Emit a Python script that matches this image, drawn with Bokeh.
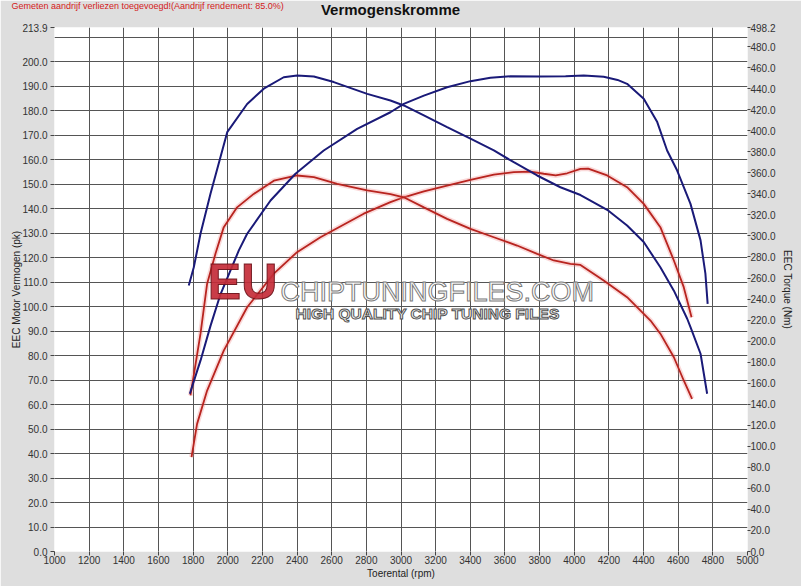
from bokeh.plotting import figure
from bokeh.models import (Range1d, LinearAxis, FixedTicker, NumeralTickFormatter, Label)
from bokeh.embed import file_html
from bokeh.resources import INLINE

# ---- data ----
# tuned torque (Nm, right axis)
tq_tuned_rpm = [1775, 1804, 1843, 1900, 1997, 2112, 2208, 2323, 2400, 2497, 2612, 2805, 2939, 3016,
                3132, 3266, 3401, 3536, 3651, 3786, 3920, 4036, 4190, 4305, 4401, 4497, 4575, 4652,
                4671, 4729, 4767]
tq_tuned_nm = [252.9, 270.2, 302.3, 340.0, 398.7, 425.5, 440.0, 450.9, 452.5, 451.6, 446.3, 435.1,
               428.8, 424.1, 414.6, 403.4, 392.5, 381.3, 370.1, 357.5, 346.3, 338.9, 324.9, 310.0,
               294.2, 270.2, 248.0, 221.3, 213.3, 188.0, 150.0]
# tuned power (pk, left axis)
pw_tuned_rpm = [1781, 1843, 1900, 1958, 2064, 2112, 2247, 2391, 2554, 2747, 2939, 3016, 3132, 3266,
                3401, 3516, 3632, 3805, 3950, 4055, 4170, 4250, 4305, 4401, 4479, 4536, 4594, 4671,
                4729, 4757, 4770]
pw_tuned_pk = [64.4, 78.0, 92.0, 105.0, 122.9, 129.7, 143.3, 154.2, 163.7, 172.5, 179.3, 182.7,
               186.1, 189.5, 192.0, 193.4, 194.0, 193.9, 194.0, 194.3, 193.8, 192.5, 190.9, 184.8,
               175.3, 163.7, 155.5, 141.9, 127.0, 113.4, 101.1]
# stock power (pk, left axis)
pw_stock_rpm = [1791, 1823, 1881, 1977, 2112, 2266, 2400, 2535, 2785, 2939, 3016, 3132, 3266, 3401,
                3536, 3651, 3747, 3824, 3893, 3959, 4036, 4080, 4190, 4305, 4401, 4497, 4575, 4632,
                4677]
pw_stock_pk = [38.5, 52.1, 65.7, 82.0, 99.7, 113.4, 122.2, 128.3, 137.9, 142.6, 144.6, 147.0, 149.4,
               151.7, 153.8, 154.9, 155.1, 154.2, 153.5, 154.4, 156.2, 156.3, 153.5, 148.7, 141.9,
               132.4, 118.8, 107.9, 95.6]
# stock torque (Nm, right axis)
tq_stock_rpm = [1785, 1843, 1881, 1929, 1977, 2054, 2150, 2266, 2400, 2497, 2632, 2805, 2939, 3016,
                3132, 3266, 3401, 3536, 3670, 3786, 3882, 3978, 4036, 4170, 4305, 4440, 4497, 4575,
                4632, 4680]
tq_stock_nm = [148.4, 207.3, 254.6, 283.0, 308.4, 327.2, 340.0, 352.6, 357.5, 355.9, 349.6, 343.3,
               339.8, 336.8, 327.2, 316.3, 306.7, 298.8, 290.9, 283.0, 276.7, 273.4, 272.5, 257.6,
               241.8, 219.6, 207.1, 184.7, 162.6, 145.1]

x_ticks = list(range(1000, 5001, 200))
left_ticks = [float(v) for v in range(0, 201, 10)] + [213.9]
right_ticks = [float(v) for v in range(0, 481, 20)] + [498.2]
left_max = 213.9
right_max = 498.2

title_text = "Vermogenskromme"
note_text = "Gemeten aandrijf verliezen toegevoegd!(Aandrijf rendement: 85.0%)"

FONT = "Liberation Sans"
BG = "#dedede"
BLUE = "#1a1a78"
RED = "#b8241f"

p = figure(frame_width=693, frame_height=524,
           x_range=Range1d(1000, 5000), y_range=Range1d(0, left_max),
           output_backend="svg", toolbar_location=None,
           min_border_left=54, min_border_right=54, min_border_top=27, min_border_bottom=35,
           background_fill_color="white", border_fill_color=BG, outline_line_color=None)
p.extra_y_ranges = {"tq": Range1d(0, right_max)}

# grids
p.xgrid.ticker = FixedTicker(ticks=x_ticks[1:-1])
p.ygrid.ticker = FixedTicker(ticks=list(range(10, 211, 10)))
for g in (p.xgrid, p.ygrid):
    g.grid_line_color = "#555555"
    g.grid_line_width = 1
    g.grid_line_alpha = 1.0

def style_axis(ax):
    ax.axis_line_color = None
    ax.major_tick_line_color = "#444444"
    ax.major_tick_out = 4
    ax.major_tick_in = 0
    ax.minor_tick_line_color = None
    ax.major_label_text_font = FONT
    ax.major_label_text_font_size = "10px"
    ax.major_label_text_color = "#333333"
    ax.major_label_standoff = 2
    ax.axis_label_text_font = FONT
    ax.axis_label_text_font_size = "10px"
    ax.axis_label_text_font_style = "normal"
    ax.axis_label_text_color = "#222222"
    ax.axis_label_standoff = 3

xa = p.xaxis[0]
xa.ticker = FixedTicker(ticks=x_ticks)
xa.formatter = NumeralTickFormatter(format="0")
xa.axis_label = "Toerental (rpm)"
style_axis(xa)
xa.major_label_standoff = 0
xa.axis_label_standoff = 1

ya = p.yaxis[0]
ya.ticker = FixedTicker(ticks=left_ticks)
ya.formatter = NumeralTickFormatter(format="0.0")
ya.axis_label = "EEC Motor Vermogen (pk)"
style_axis(ya)
ya.major_label_standoff = 3
ya.axis_label_standoff = -3

ra = LinearAxis(y_range_name="tq", ticker=FixedTicker(ticks=right_ticks),
                formatter=NumeralTickFormatter(format="0.0"), axis_label="EEC Torque (Nm)")
style_axis(ra)
ra.major_label_standoff = 0
ra.major_tick_out = 3
p.add_layout(ra, "right")

# watermark
p.add_layout(Label(x=1885, y=98.7, text="EU", text_font=FONT, text_font_size="50px",
                   text_font_style="bold", text_color="#c42c38", text_alpha=0.92,
                   text_outline_color="#6a1018"))
p.add_layout(Label(x=2304, y=100.0, text="CHIPTUNINGFILES.COM", text_font=FONT,
                   text_font_size="27px", text_color="#ffffff",
                   text_outline_color="#7a7a7a"))
p.add_layout(Label(x=2391, y=93.5, text="HIGH QUALITY CHIP TUNING FILES", text_font=FONT,
                   text_font_size="15.5px", text_font_style="bold", text_color="#f6f6f6",
                   text_outline_color="#505050"))

# red (stock) curves with soft glow
for xs, ys, rng in ((pw_stock_rpm, pw_stock_pk, "default"), (tq_stock_rpm, tq_stock_nm, "tq")):
    p.line(xs, ys, y_range_name=rng, line_color="#f08080", line_width=5, line_alpha=0.3)
    p.line(xs, ys, y_range_name=rng, line_color=RED, line_width=1.8)

# blue (tuned) curves
p.line(pw_tuned_rpm, pw_tuned_pk, line_color=BLUE, line_width=2)
p.line(tq_tuned_rpm, tq_tuned_nm, y_range_name="tq", line_color=BLUE, line_width=2)

# texts above the frame (placed in the top panel so they are not clipped)
p.add_layout(Label(x=336, y=18, x_units="screen", y_units="screen", text=title_text,
                   text_align="center", text_baseline="alphabetic", text_font=FONT,
                   text_font_size="15px", text_font_style="bold", text_color="#111111"),
             "above")
p.add_layout(Label(x=-43, y=5, x_units="screen", y_units="screen", text=note_text,
                   text_align="left", text_baseline="alphabetic", text_font=FONT,
                   text_font_size="9px", text_color="#d42020"),
             "above")

open("out.html", "w").write(file_html(p, INLINE))
